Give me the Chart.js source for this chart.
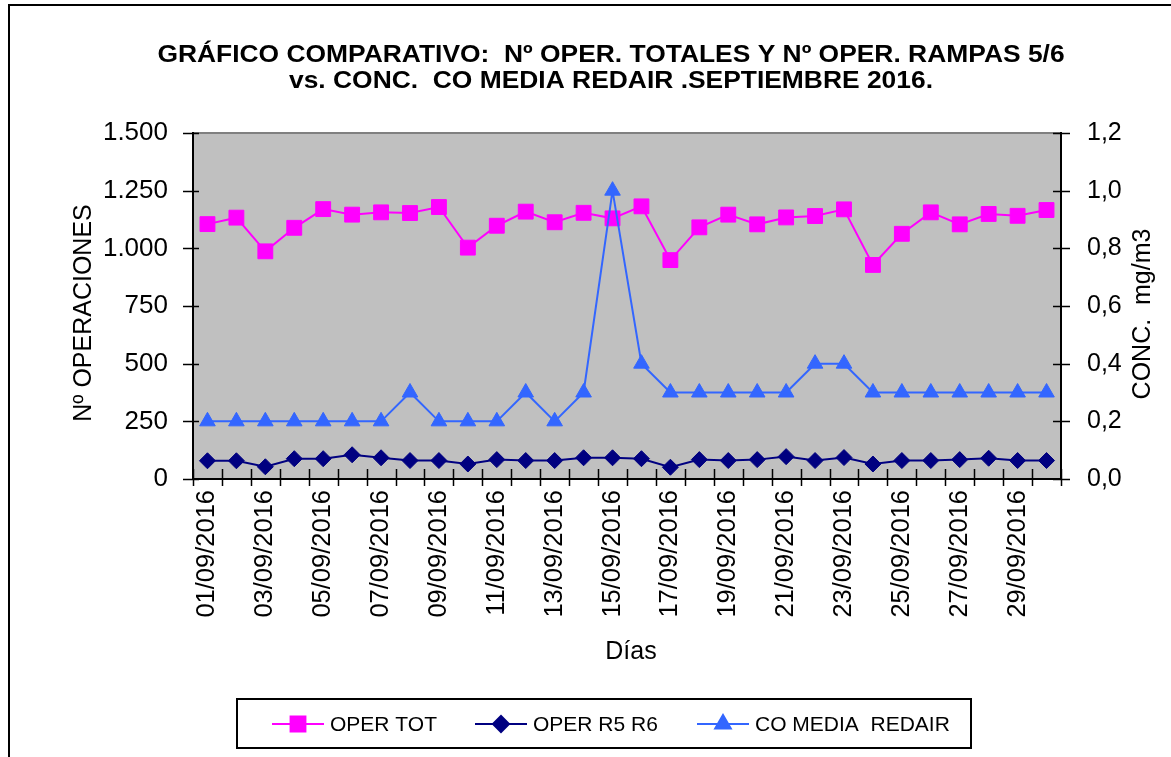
<!DOCTYPE html>
<html>
<head>
<meta charset="utf-8">
<script src="https://cdn.jsdelivr.net/npm/chart.js@4/dist/chart.umd.min.js"></script>
<style>
  body { margin: 0; background: #fff; }
</style>
</head>
<body>
<canvas id="grafico" width="1171" height="757"></canvas>
<script>
const dias = ['01/09/2016', '02/09/2016', '03/09/2016', '04/09/2016', '05/09/2016', '06/09/2016',
  '07/09/2016', '08/09/2016', '09/09/2016', '10/09/2016', '11/09/2016', '12/09/2016',
  '13/09/2016', '14/09/2016', '15/09/2016', '16/09/2016', '17/09/2016', '18/09/2016',
  '19/09/2016', '20/09/2016', '21/09/2016', '22/09/2016', '23/09/2016', '24/09/2016',
  '25/09/2016', '26/09/2016', '27/09/2016', '28/09/2016', '29/09/2016', '30/09/2016']
const operTot = [1105, 1133, 987, 1089, 1170, 1146, 1156, 1153, 1179, 1003, 1098, 1159, 1113, 1154, 1130,
  1182, 949, 1091, 1146, 1104, 1134, 1140, 1169, 928, 1063, 1156, 1104, 1149, 1141, 1166]
const operR5R6 = [79, 79, 53, 88, 88, 105, 92, 80, 80, 65, 84, 80, 80, 92, 92,
  88, 51, 84, 80, 84, 97, 80, 93, 65, 80, 80, 84, 90, 80, 80]
const coMedia = [0.2, 0.2, 0.2, 0.2, 0.2, 0.2, 0.2, 0.3, 0.2, 0.2, 0.2, 0.3, 0.2, 0.3, 1.0,
  0.4, 0.3, 0.3, 0.3, 0.3, 0.3, 0.4, 0.4, 0.3, 0.3, 0.3, 0.3, 0.3, 0.3, 0.3]
const tituloLineas = ['GRÁFICO COMPARATIVO:  Nº OPER. TOTALES Y Nº OPER. RAMPAS 5/6',
  'vs. CONC.  CO MEDIA REDAIR .SEPTIEMBRE 2016.']

const fuente = "'Liberation Sans', Arial, sans-serif"

function miles(v) {
  if (v >= 1000) return Math.floor(v / 1000) + '.' + String(v % 1000).padStart(3, '0')
  return String(v)
}

var decoracion = {
  id: 'decoracion',
  beforeDraw(chart) {
    const { ctx, chartArea: { left, right, top, bottom } } = chart
    ctx.save()
    ctx.fillStyle = '#fff'
    ctx.fillRect(0, 0, chart.width, chart.height)
    ctx.fillStyle = '#C0C0C0'
    ctx.fillRect(left, top, right - left, bottom - top)
    ctx.strokeStyle = '#808080'
    ctx.lineWidth = 2
    ctx.beginPath()
    ctx.moveTo(left, top)
    ctx.lineTo(right, top)
    ctx.stroke()
    ctx.restore()
  },
  afterDraw(chart) {
    const { ctx, chartArea: { left, right, top, bottom }, scales: { x, y, y1 } } = chart
    ctx.save()
    // marco exterior
    ctx.strokeStyle = '#000'
    ctx.lineWidth = 2
    ctx.strokeRect(9, 5, 1300, 900)

    // marcas de los ejes
    ctx.lineWidth = 1.5
    ctx.beginPath()
    y.ticks.forEach(t => {
      const py = Math.round(y.getPixelForValue(t.value)) + 0.5
      ctx.moveTo(left - 10, py)
      ctx.lineTo(left + 6, py)
    })
    y1.ticks.forEach(t => {
      const py = Math.round(y1.getPixelForValue(t.value)) + 0.5
      ctx.moveTo(right - 8, py)
      ctx.lineTo(right + 9, py)
    })
    const paso = x.getPixelForValue(1) - x.getPixelForValue(0)
    for (let i = 0; i <= dias.length; i++) {
      const px = Math.round(x.getPixelForValue(i) - paso / 2) + 0.5
      ctx.moveTo(px, bottom - 10)
      ctx.lineTo(px, bottom + 7)
    }
    ctx.stroke()

    // titulo
    ctx.fillStyle = '#000'
    ctx.textAlign = 'center'
    ctx.textBaseline = 'alphabetic'
    ctx.font = 'bold 24px ' + fuente
    ctx.save()
    ctx.translate(611, 0)
    ctx.scale(1.1, 1)
    ctx.fillText(tituloLineas[0], 0, 62)
    ctx.fillText(tituloLineas[1], 0, 88)
    ctx.restore()

    // titulos de ejes
    ctx.textBaseline = 'middle'
    ctx.font = '25px ' + fuente
    ctx.fillText('Días', 631, 652)
    ctx.save()
    ctx.translate(84, 313)
    ctx.rotate(-Math.PI / 2)
    ctx.fillText('Nº OPERACIONES', 0, 0)
    ctx.restore()
    ctx.save()
    ctx.translate(1143, 314)
    ctx.rotate(-Math.PI / 2)
    ctx.fillText('CONC.  mg/m3', 0, 0)
    ctx.restore()

    // leyenda
    ctx.lineWidth = 2
    ctx.strokeStyle = '#000'
    ctx.strokeRect(237, 699, 734, 49)
    const posiciones = [272, 475, 697]
    ctx.font = '21px ' + fuente
    ctx.textAlign = 'left'
    chart.data.datasets.forEach((ds, i) => {
      const lx = posiciones[i]
      const ly = 724
      ctx.strokeStyle = ds.borderColor
      ctx.lineWidth = 2
      ctx.beginPath()
      ctx.moveTo(lx, ly)
      ctx.lineTo(lx + 52, ly)
      ctx.stroke()
      ctx.fillStyle = ds.backgroundColor
      Chart.helpers.drawPoint(ctx, {
        pointStyle: ds.pointStyle, radius: ds.pointRadius, borderWidth: 1, rotation: 0
      }, lx + 26, ly)
      ctx.fillStyle = '#000'
      ctx.fillText(ds.label, lx + 58, ly + 1)
    })
    ctx.restore()
  }
}

const ctx = document.getElementById('grafico').getContext('2d')
const grafico = new Chart(ctx, {
  type: 'line',
  data: {
    labels: dias,
    datasets: [{
      label: 'OPER TOT',
      data: operTot,
      yAxisID: 'y',
      borderColor: '#FF00FF',
      backgroundColor: '#FF00FF',
      borderWidth: 2,
      pointStyle: 'rect',
      pointRadius: 10.5,
      pointBorderWidth: 1,
      order: 2
    }, {
      label: 'OPER R5 R6',
      data: operR5R6,
      yAxisID: 'y',
      borderColor: '#000080',
      backgroundColor: '#000080',
      borderWidth: 2,
      pointStyle: 'rectRot',
      pointRadius: 8,
      pointBorderWidth: 1,
      order: 1
    }, {
      label: 'CO MEDIA  REDAIR',
      data: coMedia,
      yAxisID: 'y1',
      borderColor: '#3366FF',
      backgroundColor: '#3366FF',
      borderWidth: 2,
      pointStyle: 'triangle',
      pointRadius: 9,
      pointBorderWidth: 1,
      order: 0
    }]
  },
  options: {
    responsive: false,
    animation: false,
    layout: { padding: { top: 133, left: 0, right: 0, bottom: 0 } },
    plugins: {
      legend: { display: false },
      title: { display: false },
      tooltip: { enabled: false }
    },
    scales: {
      x: {
        offset: true,
        grid: { display: true, drawOnChartArea: false, drawTicks: false, offset: true },
        border: { color: '#000', width: 2 },
        ticks: {
          autoSkip: false,
          minRotation: 90,
          maxRotation: 90,
          padding: 11,
          color: '#000',
          font: { family: fuente, size: 25.5 },
          callback: (v, i) => i % 2 === 0 ? dias[i] : ''
        },
        afterFit: s => { s.height = 278 }
      },
      y: {
        position: 'left',
        min: 0,
        max: 1500,
        grid: { display: true, drawOnChartArea: false, drawTicks: false },
        border: { color: '#000', width: 2 },
        ticks: {
          stepSize: 250,
          padding: 25,
          color: '#000',
          font: { family: fuente, size: 26 },
          callback: v => miles(v)
        },
        afterFit: s => { s.width = 193 }
      },
      y1: {
        position: 'right',
        min: 0,
        max: 1.2,
        grid: { display: true, drawOnChartArea: false, drawTicks: false },
        border: { color: '#000', width: 2 },
        ticks: {
          stepSize: 0.2,
          padding: 26,
          color: '#000',
          font: { family: fuente, size: 25 },
          callback: v => v.toFixed(1).replace('.', ',')
        },
        afterFit: s => { s.width = 110 }
      }
    }
  },
  plugins: [decoracion]
})
</script>
</body>
</html>
